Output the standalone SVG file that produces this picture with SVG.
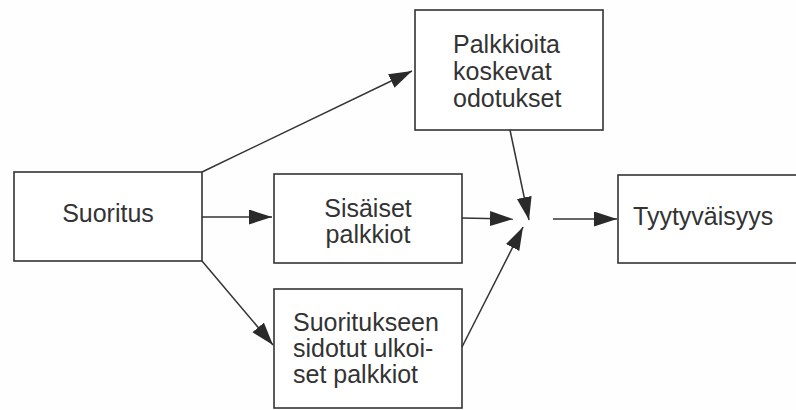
<svg xmlns="http://www.w3.org/2000/svg" width="796" height="410" viewBox="0 0 796 410">
<defs>
<style>
.box{fill:#fff;stroke:#333;stroke-width:1.6}
.t{font-family:"Liberation Sans",Arial,sans-serif;font-size:25px;fill:#333}
.c{stroke:#333;stroke-width:1.5;fill:none;marker-end:url(#ah)}
</style>
<marker id="ah" markerUnits="userSpaceOnUse" markerWidth="26" markerHeight="16" refX="23" refY="7.5" orient="auto">
<path d="M0,0 L23,7.5 L0,15 Z" fill="#2a2a2a"/>
</marker>
</defs>
<rect width="796" height="410" fill="#fefefe"/>
<g id="suoritus">
<rect class="box" x="14" y="172" width="188" height="89"/>
<text class="t" x="108" y="222" text-anchor="middle">Suoritus</text>
</g>
<g id="palkkioita">
<rect class="box" x="415" y="10" width="188" height="120"/>
<text class="t" x="453" y="53">Palkkioita</text>
<text class="t" x="453" y="80">koskevat</text>
<text class="t" x="453" y="107">odotukset</text>
</g>
<g id="sisaiset">
<rect class="box" x="274" y="174" width="188" height="89"/>
<text class="t" x="368" y="217" text-anchor="middle">Sisäiset</text>
<text class="t" x="368" y="243" text-anchor="middle">palkkiot</text>
</g>
<g id="ulkoiset">
<rect class="box" x="274" y="289" width="188" height="119"/>
<text class="t" x="293" y="331">Suoritukseen</text>
<text class="t" x="293" y="357">sidotut ulkoi-</text>
<text class="t" x="293" y="383">set palkkiot</text>
</g>
<g id="tyytyvaisyys">
<rect class="box" x="618" y="175" width="190" height="88"/>
<text class="t" x="633" y="225">Tyytyväisyys</text>
</g>
<g id="connectors">
<line class="c" x1="202" y1="172" x2="412" y2="71"/>
<line class="c" x1="202" y1="217" x2="272" y2="217"/>
<line class="c" x1="202" y1="261" x2="273" y2="345"/>
<line class="c" x1="510" y1="130" x2="529" y2="220"/>
<line class="c" x1="462" y1="218" x2="513" y2="219"/>
<line class="c" x1="462" y1="347" x2="523" y2="227"/>
<line class="c" x1="553" y1="219" x2="617" y2="219"/>
</g>
</svg>
